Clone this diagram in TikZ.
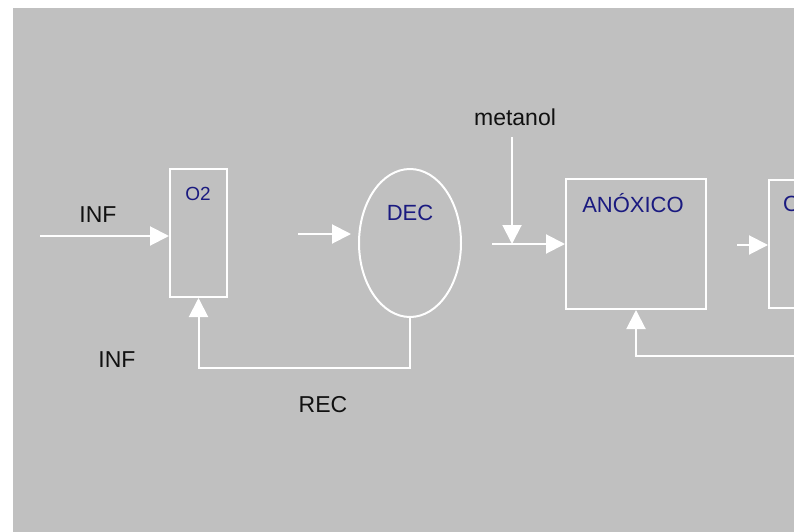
\documentclass[tikz,border=0pt]{standalone}
\usepackage{fontspec}
\setmainfont{Liberation Sans}
\usepackage{xcolor}
\usepackage{tikz}
\usetikzlibrary{arrows.meta,shapes.geometric}
\definecolor{cPanel}{HTML}{C0C0C0}
\definecolor{cNavy}{HTML}{1A1A80}
\definecolor{cInk}{HTML}{111111}
\tikzset{
  tank/.style={draw=white,line width=2pt,inner sep=0pt,rectangle},
  settler/.style={draw=white,line width=2pt,inner sep=0pt,ellipse},
  flow/.style={-{Triangle[length=19pt,width=19pt]},line width=2pt,draw=white},
  lbl/.style={font=\fontsize{23}{27}\selectfont,text=cInk,inner sep=0pt},
  tname/.style={font=\fontsize{22}{26}\selectfont,text=cNavy,inner sep=0pt},
}

\begin{document}
\begin{tikzpicture}[x=1pt,y=-1pt]
  \useasboundingbox (0,0) rectangle (794,532);
  \clip (0,0) rectangle (794,532);
  \fill[cPanel] (13,8) rectangle (794,532);

  % tanks
  \node[tank,minimum width=57pt,minimum height=128pt] (o2) at (198.5,233) {};
  \node[settler,minimum width=102pt,minimum height=148pt] (dec) at (410,243) {};
  \node[tank,minimum width=140pt,minimum height=130pt] (anox) at (636,244) {};
  \node[tank,minimum width=140pt,minimum height=128pt] (next) at (839,244) {};

  % tank names
  \node[tname,font=\fontsize{19}{23}\selectfont] (o2lbl) at (198,194) {O2};
  \node[tname] (declbl) at (410,213) {DEC};
  \node[tname] (anoxlbl) at (633,203) {ANÓXICO};
  \node[tname,anchor=west] (nextlbl) at (783,204) {O};

  % labels
  \node[lbl] (inf) at (98,215) {INF};
  \node[lbl] (inftwo) at (117,360) {INF};
  \node[lbl] (rec) at (323,405) {REC};
  \node[lbl] (met) at (515,117) {metanol};

  % free ends
  \coordinate (infin) at (40,236);
  \coordinate (decin) at (298,234);
  \coordinate (decto) at (351,234);
  \coordinate (metin) at (512,137);
  \coordinate (mix) at (512,244);
  \coordinate (anin) at (492,244);
  \coordinate (nextin) at (737,245);
  \coordinate (recin) at (800,356);

  % flows
  \draw[flow] (infin) -- (infin -| o2.west);
  \draw[flow] (decin) -- (decto);
  \draw[flow] (dec.south) -- ++(0,50) -| (o2.south);
  \draw[flow] (metin) -- (mix);
  \draw[flow] (anin) -- (anox.west);
  \draw[flow] (nextin) -- (nextin -| next.west);
  \draw[flow] (recin) -| (anox.south);
\end{tikzpicture}
\end{document}
